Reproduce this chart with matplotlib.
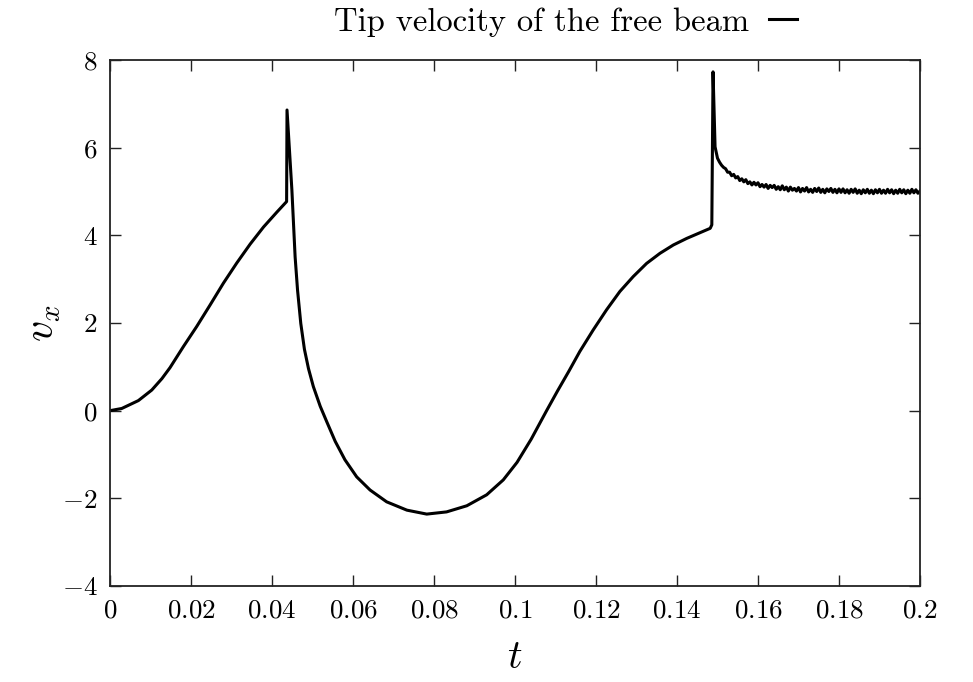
import numpy as np
import matplotlib
matplotlib.use('Agg')
import matplotlib.pyplot as plt
from matplotlib.ticker import MultipleLocator, FuncFormatter

# tip velocity: smooth part up to the second impact
t_main = [0.0, 0.0029, 0.0070, 0.0103, 0.0128, 0.0148, 0.0181, 0.0214, 0.0247,
          0.0280, 0.0313, 0.0346, 0.0379, 0.0412, 0.0436, 0.0437,
          0.0449, 0.0453, 0.0457, 0.0463, 0.0471, 0.0480, 0.0490, 0.0502,
          0.0519, 0.0535, 0.0556, 0.0580, 0.0609, 0.0642, 0.0683, 0.0733,
          0.0782, 0.0831, 0.0881, 0.0930, 0.0971, 0.1005, 0.1040, 0.1078,
          0.1105, 0.1133, 0.1160, 0.1193, 0.1226, 0.1259, 0.1292, 0.1325,
          0.1358, 0.1391, 0.1424, 0.1457, 0.1482, 0.1486, 0.1489, 0.1494]
v_main = [0.00, 0.05, 0.23, 0.47, 0.73, 0.98, 1.46, 1.92, 2.41,
          2.91, 3.37, 3.80, 4.19, 4.53, 4.77, 6.86,
          5.04, 4.28, 3.51, 2.75, 1.99, 1.40, 0.96, 0.55,
          0.10, -0.25, -0.70, -1.12, -1.51, -1.81, -2.08, -2.27,
          -2.36, -2.31, -2.17, -1.92, -1.58, -1.18, -0.65, 0.00,
          0.45, 0.90, 1.35, 1.84, 2.30, 2.72, 3.06, 3.36,
          3.59, 3.78, 3.93, 4.06, 4.16, 4.24, 7.73, 6.02]

# noisy tail after the second impact
t_tail = [0.1500, 0.1505, 0.1510, 0.1515, 0.1520, 0.1525, 0.1530, 0.1535, 0.1540, 0.1545,
          0.1550, 0.1555, 0.1560, 0.1565, 0.1570, 0.1575, 0.1580, 0.1585, 0.1590, 0.1595,
          0.1600, 0.1605, 0.1610, 0.1615, 0.1620, 0.1625, 0.1630, 0.1635, 0.1640, 0.1645,
          0.1650, 0.1655, 0.1660, 0.1665, 0.1670, 0.1675, 0.1680, 0.1685, 0.1690, 0.1695,
          0.1700, 0.1705, 0.1710, 0.1715, 0.1720, 0.1725, 0.1730, 0.1735, 0.1740, 0.1745,
          0.1750, 0.1755, 0.1760, 0.1765, 0.1770, 0.1775, 0.1780, 0.1785, 0.1790, 0.1795,
          0.1800, 0.1805, 0.1810, 0.1815, 0.1820, 0.1825, 0.1830, 0.1835, 0.1840, 0.1845,
          0.1850, 0.1855, 0.1860, 0.1865, 0.1870, 0.1875, 0.1880, 0.1885, 0.1890, 0.1895,
          0.1900, 0.1905, 0.1910, 0.1915, 0.1920, 0.1925, 0.1930, 0.1935, 0.1940, 0.1945,
          0.1950, 0.1955, 0.1960, 0.1965, 0.1970, 0.1975, 0.1980, 0.1985, 0.1990, 0.1995,
          0.2000]
v_tail = [5.76, 5.67, 5.60, 5.55, 5.52, 5.44, 5.44, 5.36, 5.39, 5.31,
          5.34, 5.25, 5.29, 5.22, 5.27, 5.18, 5.22, 5.15, 5.21, 5.15,
          5.20, 5.11, 5.16, 5.10, 5.16, 5.07, 5.14, 5.09, 5.14, 5.05,
          5.11, 5.04, 5.13, 5.04, 5.10, 5.01, 5.10, 5.03, 5.07, 5.01,
          5.09, 4.99, 5.07, 5.01, 5.09, 4.99, 5.05, 4.98, 5.07, 5.00,
          5.08, 4.98, 5.05, 4.97, 5.06, 5.00, 5.07, 4.98, 5.05, 4.97,
          5.06, 4.98, 5.06, 4.97, 5.04, 4.96, 5.05, 4.98, 5.06, 4.96,
          5.03, 4.95, 5.04, 4.97, 5.05, 4.96, 5.03, 4.95, 5.04, 4.97,
          5.05, 4.96, 5.03, 4.96, 5.05, 4.97, 5.04, 4.95, 5.03, 4.96,
          5.05, 4.97, 5.04, 4.95, 5.03, 4.96, 5.05, 4.97, 5.04, 4.96,
          5.01]

plt.rcParams['mathtext.fontset'] = 'cm'
plt.rcParams['font.family'] = 'cmr10'
plt.rcParams['axes.formatter.use_mathtext'] = True

t = np.array(t_main + t_tail)
v = np.array(v_main + v_tail)

fig = plt.figure(figsize=(9.73, 6.82), dpi=100)
ax = fig.add_axes([0.1131, 0.1408, 0.8324, 0.7712])

ax.plot(t, v, color='black', linewidth=2.2, solid_joinstyle='round',
        label='Tip velocity of the free beam')

ax.set_xlim(0, 0.2)
ax.set_ylim(-4, 8)
ax.xaxis.set_major_locator(MultipleLocator(0.02))
ax.yaxis.set_major_locator(MultipleLocator(2))
ax.xaxis.set_major_formatter(FuncFormatter(lambda x, _: f'${round(x, 3):g}$'))
ax.yaxis.set_major_formatter(FuncFormatter(lambda y, _: f'${round(y):g}$'))
ax.tick_params(direction='in', length=8, width=1, top=True, right=True,
               labelsize=19.5, pad=9, colors='#222222', labelcolor='black')
for sp in ax.spines.values():
    sp.set_linewidth(1.3)
    sp.set_color('#222222')

ax.set_xlabel('$t$', fontsize=29, labelpad=13)
ax.set_ylabel('$v_x$', fontsize=30, labelpad=-1)

ax.legend(loc='center right', bbox_to_anchor=(0.819, 0.968),
          bbox_transform=fig.transFigure, frameon=False, markerfirst=False,
          handlelength=0.85, handletextpad=0.62, borderpad=0, borderaxespad=0,
          fontsize=23.5)

fig.savefig('out.png', dpi=100)
